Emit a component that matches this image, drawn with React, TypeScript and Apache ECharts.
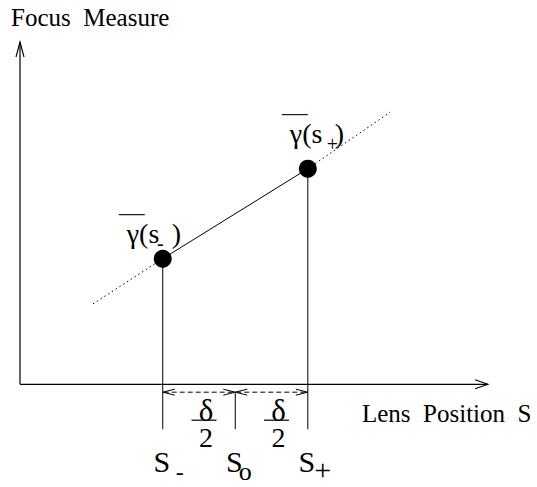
import { useEffect, useRef } from 'react';
import * as echarts from 'echarts';

// Lens positions on the horizontal axis: s-, s0, s+
const lensPositions = [3.05, 4.6, 6.15];
const lensSymbols = ['S', 'S', 'S'];
const lensSubscripts = ['-', 'o', '+'];

// Focus measure sampled at s- and s+
const samplePositions = [3.05, 6.15];
const focusValues = [3.67, 6.3];
const focusSubscripts = ['-', '+'];

// Dotted extension of the secant beyond the two samples
const trendLowX = [1.56, 3.05];
const trendLowY = [2.35, 3.67];
const trendHighX = [6.15, 7.91];
const trendHighY = [6.3, 7.95];

// Axis extents and the levels of the marks drawn below the lens axis
const axisEnds = [10, 10];
const dimensionLevel = -0.23;
const tickBottom = -1.31;

// Text
const yAxisTitle = 'Focus  Measure';
const xAxisTitle = 'Lens  Position  S';
const halfStep = ['δ', '2'];

const FONT = 'Liberation Serif';
const INK = '#000';

function txt(x: number, y: number, text: string, size: number, align = 'center') {
  return {
    type: 'text',
    x,
    y,
    style: { text, fontSize: size, fontFamily: FONT, fill: INK, align, verticalAlign: 'middle' },
  };
}

function seg(p: number[], q: number[], extra: any = {}) {
  return {
    type: 'line',
    shape: { x1: p[0], y1: p[1], x2: q[0], y2: q[1] },
    style: { stroke: INK, lineWidth: 1, ...extra },
  };
}

// open "V" arrow head; dir points toward the tip
function head(tip: number[], dir: number[], len: number, half: number, width = 1) {
  const bx = tip[0] - dir[0] * len;
  const by = tip[1] - dir[1] * len;
  const nx = -dir[1];
  const ny = dir[0];
  return {
    type: 'polyline',
    shape: { points: [[bx + nx * half, by + ny * half], [tip[0], tip[1]], [bx - nx * half, by - ny * half]] },
    style: { stroke: INK, fill: 'none', lineWidth: width },
  };
}

// label placement for the two focus samples (pixel offsets from the point)
const gammaOffsets = [[-36, -25], [-18, -35]];
const gammaSubX = [33.5, 42.5];
const gammaSubY = [9, 10];
// placement of the lens-position subscripts relative to each tick
const lensSubDX = [17, 10, 15];
const lensSubDY = [43, 42.5, 40];
const lensSubSize = [24, 26, 30];

function dotted(xs: number[], ys: number[]) {
  return {
    type: 'line',
    silent: true,
    symbol: 'none',
    data: xs.map((x, i) => [x, ys[i]]),
    lineStyle: { color: INK, width: 1, type: [1.5, 3] },
    z: 1,
  };
}

export default function App() {
  const ref = useRef<HTMLDivElement>(null);

  useEffect(() => {
    if (!ref.current) return;
    document.body.style.margin = '0';
    const chart = echarts.init(ref.current, null, { renderer: 'svg' });

    const option: any = {
      animation: false,
      backgroundColor: '#fff',
      textStyle: { fontFamily: FONT },
      grid: { left: 20, top: 42, width: 468, height: 445.9, containLabel: false },
      xAxis: { type: 'value', min: 0, max: axisEnds[0], show: false },
      yAxis: { type: 'value', min: -3, max: axisEnds[1], show: false },
      series: [
        {
          // axes with their arrows and titles
          type: 'custom',
          clip: false,
          silent: true,
          data: [[0, 0]],
          renderItem: (_p: any, api: any) => {
            const o = api.coord([0, 0]);
            const yTop = api.coord([0, axisEnds[1]]);
            const xEnd = api.coord([axisEnds[0], 0]);
            return {
              type: 'group',
              children: [
                seg(o, yTop, { lineWidth: 1.2 }),
                head(yTop, [0, -1], 15, 4, 1.1),
                seg(o, xEnd, { lineWidth: 1.2 }),
                head(xEnd, [1, 0], 13, 4.5, 1.1),
                txt(yTop[0] - 9, yTop[1] - 25, yAxisTitle, 25, 'left'),
                txt(xEnd[0] - 126, xEnd[1] + 29.5, xAxisTitle, 25, 'left'),
              ],
            };
          },
        },
        dotted(trendLowX, trendLowY),
        dotted(trendHighX, trendHighY),
        {
          // vertical ticks at s-, s0, s+ with their labels
          type: 'custom',
          clip: false,
          silent: true,
          data: lensPositions.map((x, i) => [x, i === 1 ? dimensionLevel : focusValues[i === 0 ? 0 : 1]]),
          renderItem: (params: any, api: any) => {
            const i = params.dataIndex;
            const top = api.coord([api.value(0), api.value(1)]);
            const foot = api.coord([api.value(0), tickBottom]);
            return {
              type: 'group',
              children: [
                seg(top, foot),
                txt(foot[0] - 1, foot[1] + 32.5, lensSymbols[i], 30),
                txt(foot[0] + lensSubDX[i], foot[1] + lensSubDY[i], lensSubscripts[i], lensSubSize[i]),
              ],
            };
          },
          z: 2,
        },
        {
          // dashed half-step dimensions between s-, s0 and s+
          type: 'custom',
          clip: false,
          silent: true,
          data: [
            [lensPositions[0], lensPositions[1]],
            [lensPositions[1], lensPositions[2]],
          ],
          renderItem: (_p: any, api: any) => {
            const a = api.coord([api.value(0), dimensionLevel]);
            const b = api.coord([api.value(1), dimensionLevel]);
            const mx = (a[0] + b[0]) / 2 + 5;
            return {
              type: 'group',
              children: [
                seg([a[0] + 1, a[1]], [b[0] - 1, b[1]], { lineDash: [5, 3] }),
                head(a, [-1, 0], 12, 3),
                head(b, [1, 0], 12, 3),
                txt(mx + 2, a[1] + 18, halfStep[0], 31),
                seg([mx - 12.5, a[1] + 28], [mx + 12.5, a[1] + 28], { lineWidth: 1.2 }),
                txt(mx + 2, a[1] + 45, halfStep[1], 28),
              ],
            };
          },
          z: 2,
        },
        {
          // secant between the two focus samples
          type: 'line',
          silent: true,
          symbol: 'circle',
          symbolSize: 18,
          data: samplePositions.map((x, i) => [x, focusValues[i]]),
          lineStyle: { color: INK, width: 1 },
          itemStyle: { color: INK },
          z: 4,
        },
        {
          // averaged focus measure labels
          type: 'custom',
          clip: false,
          silent: true,
          data: samplePositions.map((x, i) => [x, focusValues[i]]),
          renderItem: (params: any, api: any) => {
            const i = params.dataIndex;
            const p = api.coord([api.value(0), api.value(1)]);
            const left = p[0] + gammaOffsets[i][0];
            const cy = p[1] + gammaOffsets[i][1];
            return {
              type: 'group',
              children: [
                seg([left - 8, cy - 19], [left + 18, cy - 19], { lineWidth: 1.1 }),
                txt(left, cy, 'γ(s', 28, 'left'),
                txt(left + gammaSubX[i], cy + gammaSubY[i], focusSubscripts[i], 20),
                txt(left + 45, cy, ')', 28, 'left'),
              ],
            };
          },
          z: 5,
        },
      ],
    };

    chart.setOption(option);
    return () => chart.dispose();
  }, []);

  return (
    <div
      ref={ref}
      style={{ position: 'fixed', left: 0, top: 0, width: 537, height: 487, background: '#fff' }}
    />
  );
}
